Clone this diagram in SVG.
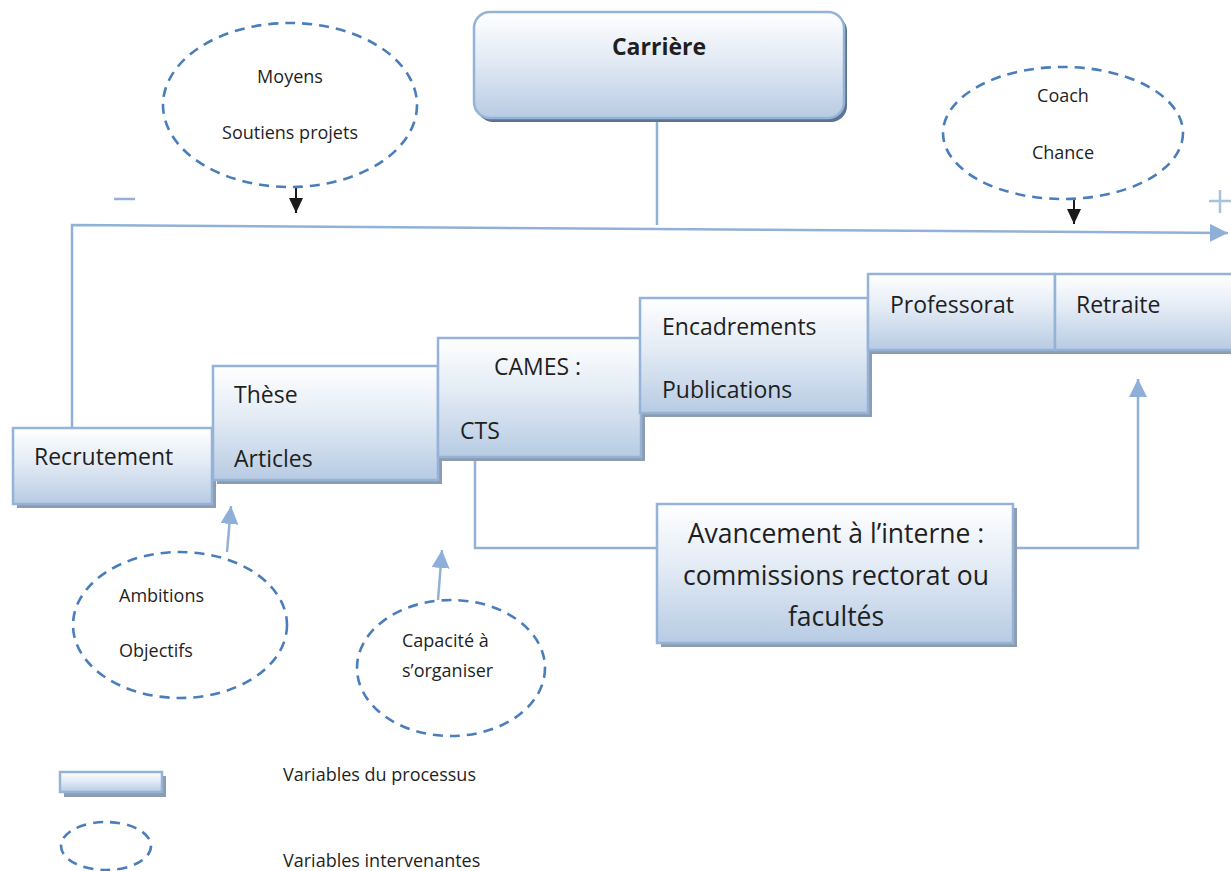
<svg xmlns="http://www.w3.org/2000/svg" width="1231" height="871" viewBox="0 0 1231 871">
<defs>
<linearGradient id="g" x1="0" y1="0" x2="0" y2="1">
<stop offset="0" stop-color="#ffffff"/>
<stop offset="0.45" stop-color="#e3ebf5"/>
<stop offset="1" stop-color="#b7cbe3"/>
</linearGradient>
<linearGradient id="gc" x1="0" y1="0" x2="0" y2="1">
<stop offset="0" stop-color="#ffffff"/>
<stop offset="0.5" stop-color="#dfe8f3"/>
<stop offset="1" stop-color="#b8cbe3"/>
</linearGradient>
<marker id="ab" markerUnits="userSpaceOnUse" markerWidth="18" markerHeight="18" viewBox="0 0 16 16" refX="16" refY="8" orient="auto">
<path d="M0,0 L16,8 L0,16 z" fill="#8eb0d8"/>
</marker>
<marker id="ak" markerUnits="userSpaceOnUse" markerWidth="16" markerHeight="16" viewBox="0 0 16 16" refX="15" refY="8" orient="auto">
<path d="M0,1 L15,8 L0,15 z" fill="#1a1a1a"/>
</marker>
</defs>
<style>
.box{fill:url(#g);stroke:#95b3d7;stroke-width:2.5}
.sh{fill:#8e9cb0}
.t{font-family:"Open Sans","Liberation Sans",sans-serif;font-size:23px;fill:#1f1f1f}
.tl{font-family:"Open Sans","Liberation Sans",sans-serif;font-size:26.5px;fill:#1f1f1f}
.s{font-family:"Open Sans","Liberation Sans",sans-serif;font-size:18px;fill:#1f1f1f}
.ell{fill:none;stroke:#4a7ebb;stroke-width:2.6;stroke-dasharray:10,7}
.con{fill:none;stroke:#92b1d8;stroke-width:2.5}
</style>
<rect width="1231" height="871" fill="#ffffff"/>

<g id="connectors">
<path class="con" d="M657,122 L657,225"/>
<path class="con" d="M72,428 L72,225 L1228,233" marker-end="url(#ab)"/>
<path class="con" d="M475,457 L475,548 L657,548"/>
<path class="con" d="M1013,548 L1138,548 L1138,379" marker-end="url(#ab)"/>
<path class="con" d="M227,552 L231,506" marker-end="url(#ab)"/>
<path class="con" d="M438,600 L442,550" marker-end="url(#ab)"/>
<path d="M296,187 L296,213" stroke="#1a1a1a" stroke-width="2" marker-end="url(#ak)"/>
<path d="M1074,199 L1074,224" stroke="#1a1a1a" stroke-width="2" marker-end="url(#ak)"/>
</g>

<g id="signs">
<path d="M114,199 L135,199" stroke="#92b1d8" stroke-width="2.5"/>
<path d="M1209,201 L1231,201 M1220,190 L1220,213" stroke="#a9c0de" stroke-width="2.5"/>
</g>

<g id="carriere">
<rect x="477" y="15" width="370" height="107" rx="16" fill="#5d7392"/>
<rect x="474" y="12" width="370" height="106" rx="16" fill="url(#gc)" stroke="#95b3d7" stroke-width="2.5"/>
<text x="659" y="55" text-anchor="middle" font-family="Open Sans, Liberation Sans, sans-serif" font-size="23" font-weight="bold" fill="#1f1f1f">Carrière</text>
</g>

<g id="recrutement">
<rect class="sh" x="17" y="432" width="199" height="76"/>
<rect class="box" x="13" y="428" width="199" height="76"/>
<text class="t" x="34" y="465">Recrutement</text>
</g>

<g id="these">
<rect class="sh" x="217" y="370" width="225" height="114"/>
<rect class="box" x="213" y="366" width="225" height="114"/>
<text class="t" x="234" y="403">Thèse</text>
<text class="t" x="234" y="467">Articles</text>
</g>

<g id="cames">
<rect class="sh" x="442" y="342" width="203" height="119"/>
<rect class="box" x="438" y="338" width="203" height="119"/>
<text class="t" x="494" y="375">CAMES :</text>
<text class="t" x="460" y="439">CTS</text>
</g>

<g id="encadrements">
<rect class="sh" x="644" y="302" width="228" height="115"/>
<rect class="box" x="640" y="298" width="228" height="115"/>
<text class="t" x="662" y="335">Encadrements</text>
<text class="t" x="662" y="398">Publications</text>
</g>

<g id="professorat">
<rect class="sh" x="872" y="278" width="187" height="76"/>
<rect class="box" x="868" y="274" width="187" height="76"/>
<text class="t" x="890" y="313">Professorat</text>
</g>

<g id="retraite">
<rect class="sh" x="1059" y="278" width="190" height="76"/>
<rect class="box" x="1055" y="274" width="190" height="76"/>
<text class="t" x="1076" y="313">Retraite</text>
</g>

<g id="avancement">
<rect class="sh" x="661" y="508" width="356" height="139"/>
<rect class="box" x="657" y="504" width="356" height="139"/>
<text class="tl" x="836" y="543" text-anchor="middle">Avancement à l’interne :</text>
<text class="tl" x="836" y="585" text-anchor="middle">commissions rectorat ou</text>
<text class="tl" x="836" y="626" text-anchor="middle">facultés</text>
</g>

<g id="moyens">
<ellipse class="ell" cx="290" cy="105" rx="127" ry="82"/>
<text class="s" x="290" y="83" text-anchor="middle">Moyens</text>
<text class="s" x="290" y="139" text-anchor="middle">Soutiens projets</text>
</g>

<g id="coach">
<ellipse class="ell" cx="1063" cy="133" rx="120" ry="66"/>
<text class="s" x="1063" y="102" text-anchor="middle">Coach</text>
<text class="s" x="1063" y="159" text-anchor="middle">Chance</text>
</g>

<g id="ambitions">
<ellipse class="ell" cx="180" cy="625" rx="107" ry="73"/>
<text class="s" x="119" y="602">Ambitions</text>
<text class="s" x="119" y="657">Objectifs</text>
</g>

<g id="capacite">
<ellipse class="ell" cx="451" cy="668" rx="94" ry="68"/>
<text class="s" x="402" y="647">Capacité à</text>
<text class="s" x="402" y="677">s’organiser</text>
</g>

<g id="legend">
<rect class="sh" x="64" y="776" width="102" height="21"/>
<rect class="box" x="60" y="772" width="102" height="20" stroke-width="2"/>
<text class="s" x="283" y="781">Variables du processus</text>
<ellipse class="ell" cx="106" cy="846" rx="45" ry="24"/>
<text class="s" x="283" y="867">Variables intervenantes</text>
</g>
</svg>
